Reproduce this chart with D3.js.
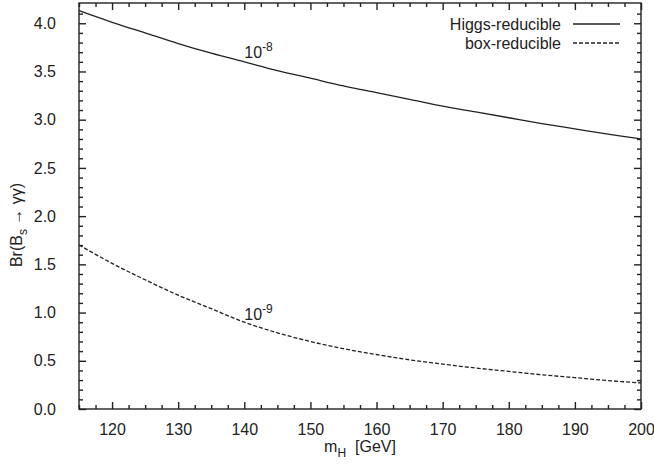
<!DOCTYPE html>
<head>
  <meta charset="utf-8">
  <script src="https://cdn.jsdelivr.net/npm/d3@7"></script>
  <style>
    body { margin: 0; background: #fff; }
    text { font-family: "Liberation Sans", Arial, sans-serif; fill: #222; }
    .axis path { display: none; }
    .axis line { stroke: #222; stroke-width: 1.4px; }
    .axis text { font-size: 16px; fill: #222; font-family: "Liberation Sans", Arial, sans-serif; }
  </style>
</head>
<body>
<div id="container"></div>
<script>

  // values (Br in units of 10^-8 / 10^-9)
  let mass = [115, 120, 125, 130, 135, 140, 145, 150, 155, 160, 165, 170, 175, 180, 185, 190, 195, 200];
  let higgs = [4.13, 4.01, 3.90, 3.79, 3.69, 3.60, 3.51, 3.43, 3.35, 3.28, 3.21, 3.14, 3.08, 3.02, 2.96, 2.905, 2.85, 2.80];
  let box = [1.70, 1.51, 1.34, 1.18, 1.04, 0.90, 0.79, 0.70, 0.625, 0.565, 0.51, 0.465, 0.425, 0.39, 0.355, 0.325, 0.295, 0.27];
  let xTicks = [120, 130, 140, 150, 160, 170, 180, 190, 200];
  let yTicks = [0.0, 0.5, 1.0, 1.5, 2.0, 2.5, 3.0, 3.5, 4.0];

  let svg_width = 654;
  let svg_height = 469;
  let padding = {top: 3, right: 13, bottom: 60, left: 79};

  let svg = d3.select("#container").append("svg")
          .attr("width", svg_width)
          .attr("height", svg_height);

  let xScale = d3.scaleLinear()
          .domain([115, 200])
          .range([padding.left, svg_width - padding.right]);

  let yScale = d3.scaleLinear()
          .domain([0, 4.21])
          .range([svg_height - padding.bottom, padding.top]);

  let x0 = xScale.range()[0], x1 = xScale.range()[1];
  let y0 = yScale.range()[0], y1 = yScale.range()[1];

  let xMinor = d3.range(115, 200.01, 2.5).filter(function (v) { return xTicks.indexOf(v) < 0; });
  let yMinor = d3.range(0, 4.2, 0.1).map(function (v) { return +v.toFixed(1); })
          .filter(function (v) { return yTicks.indexOf(v) < 0; });

  // inward ticks on all four sides, labels only bottom/left
  function addAxis(axis, tx, ty) {
    svg.append("g")
            .attr("class", "axis")
            .attr("transform", "translate(" + tx + "," + ty + ")")
            .call(axis);
  }
  addAxis(d3.axisBottom(xScale).tickValues(xTicks).tickSize(-7).tickPadding(15).tickFormat(d3.format("d")), 0, y0);
  addAxis(d3.axisBottom(xScale).tickValues(xMinor).tickSize(-4).tickFormat(""), 0, y0);
  addAxis(d3.axisTop(xScale).tickValues(xTicks).tickSize(-7).tickFormat(""), 0, y1);
  addAxis(d3.axisTop(xScale).tickValues(xMinor).tickSize(-4).tickFormat(""), 0, y1);
  addAxis(d3.axisLeft(yScale).tickValues(yTicks).tickSize(-7).tickPadding(23).tickFormat(d3.format(".1f")), x0, 0);
  addAxis(d3.axisLeft(yScale).tickValues(yMinor).tickSize(-4).tickFormat(""), x0, 0);
  addAxis(d3.axisRight(yScale).tickValues(yTicks).tickSize(-7).tickFormat(""), x1, 0);
  addAxis(d3.axisRight(yScale).tickValues(yMinor).tickSize(-4).tickFormat(""), x1, 0);

  svg.append("rect")
          .attr("x", x0).attr("y", y1)
          .attr("width", x1 - x0).attr("height", y0 - y1)
          .attr("fill", "none").attr("stroke", "#222").attr("stroke-width", 1.4);

  let line = d3.line()
          .x(function (d) { return xScale(d[0]); })
          .y(function (d) { return yScale(d[1]); })
          .curve(d3.curveCatmullRom);

  svg.append("path")
          .datum(d3.zip(mass, higgs))
          .attr("fill", "none")
          .attr("stroke", "#222")
          .attr("stroke-width", 1.3)
          .attr("d", line);

  svg.append("path")
          .datum(d3.zip(mass, box))
          .attr("fill", "none")
          .attr("stroke", "#222")
          .attr("stroke-width", 1.3)
          .attr("stroke-dasharray", "4,2")
          .attr("d", line);

  // curve labels
  function powerLabel(x, y, exp) {
    let t = svg.append("text").attr("x", x).attr("y", y).style("font-size", "16px");
    t.append("tspan").text("10");
    t.append("tspan").attr("dy", -7).style("font-size", "12px").text(exp);
  }
  powerLabel(xScale(140), 58, "-8");
  powerLabel(xScale(140), 320, "-9");

  // legend
  let legend = [["Higgs-reducible", null, 24], ["box-reducible", "4,2", 43]];
  legend.forEach(function (l) {
    svg.append("text")
            .attr("x", 561).attr("y", l[2] + 6)
            .attr("text-anchor", "end")
            .style("font-size", "16px")
            .text(l[0]);
    svg.append("line")
            .attr("x1", 573).attr("x2", 620)
            .attr("y1", l[2]).attr("y2", l[2])
            .attr("stroke", "#222").attr("stroke-width", 1.3)
            .attr("stroke-dasharray", l[1]);
  });

  // axis titles
  let xt = svg.append("text")
          .attr("x", (x0 + x1) / 2)
          .attr("y", 452)
          .attr("text-anchor", "middle")
          .style("font-size", "16px");
  xt.append("tspan").text("m");
  xt.append("tspan").attr("dy", 5).style("font-size", "12px").text("H");
  xt.append("tspan").attr("dy", -5).text("\u00a0 [GeV]");

  let yt = svg.append("text")
          .attr("transform", "translate(22,225) rotate(-90)")
          .attr("text-anchor", "middle")
          .style("font-size", "16px");
  yt.append("tspan").text("Br(B");
  yt.append("tspan").attr("dy", 5).style("font-size", "12px").text("s");
  yt.append("tspan").attr("dy", -5).text(" \u2192 \u03b3\u03b3)");

</script>
</body>
